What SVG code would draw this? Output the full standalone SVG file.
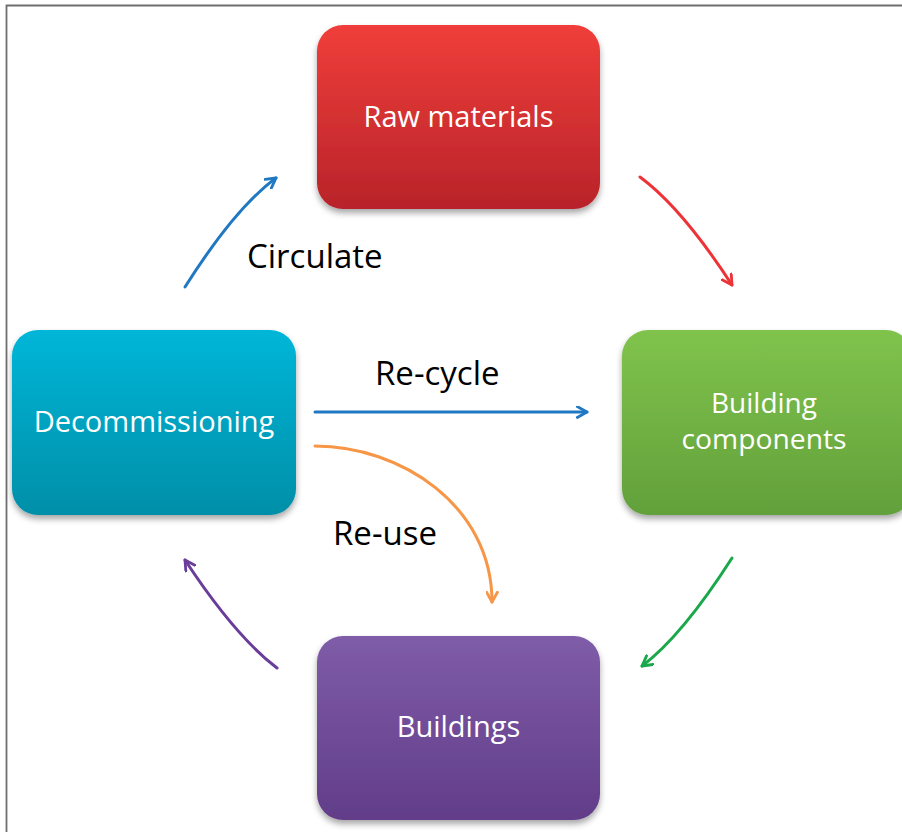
<svg xmlns="http://www.w3.org/2000/svg" width="902" height="832" viewBox="0 0 902 832">
<style>
.box{filter:url(#sh);}
.nt{font-family:"Open Sans","Noto Sans",sans-serif;font-size:29px;fill:#ffffff;text-anchor:middle;}
.nt2{font-size:26.5px;}
.lb{font-family:"Open Sans","Noto Sans",sans-serif;font-size:33px;fill:#000000;}
.c{fill:none;stroke-width:3;stroke-linecap:round;}
</style>
<defs>
<filter id="sh" x="-10%" y="-10%" width="120%" height="125%">
<feDropShadow dx="0" dy="4" stdDeviation="3" flood-color="#000" flood-opacity="0.35"/>
</filter>
<linearGradient id="gr" x1="0" y1="0" x2="0" y2="1"><stop offset="0" stop-color="#f03e3a"/><stop offset="1" stop-color="#b8232a"/></linearGradient>
<linearGradient id="gg" x1="0" y1="0" x2="0" y2="1"><stop offset="0" stop-color="#80c34c"/><stop offset="1" stop-color="#62a03b"/></linearGradient>
<linearGradient id="gc" x1="0" y1="0" x2="0" y2="1"><stop offset="0" stop-color="#00b6d8"/><stop offset="1" stop-color="#058fa8"/></linearGradient>
<linearGradient id="gp" x1="0" y1="0" x2="0" y2="1"><stop offset="0" stop-color="#7f5ca8"/><stop offset="1" stop-color="#623d89"/></linearGradient>
<marker id="mb" viewBox="0 0 12 12" refX="10" refY="6" markerWidth="13" markerHeight="13" markerUnits="userSpaceOnUse" orient="auto"><path d="M1,1 L10,6 L1,11" fill="none" stroke="#1f78c1" stroke-width="2.6" stroke-linecap="round" stroke-linejoin="round"/></marker>
<marker id="mr" viewBox="0 0 12 12" refX="10" refY="6" markerWidth="13" markerHeight="13" markerUnits="userSpaceOnUse" orient="auto"><path d="M1,1 L10,6 L1,11" fill="none" stroke="#ee3338" stroke-width="2.6" stroke-linecap="round" stroke-linejoin="round"/></marker>
<marker id="mg" viewBox="0 0 12 12" refX="10" refY="6" markerWidth="13" markerHeight="13" markerUnits="userSpaceOnUse" orient="auto"><path d="M1,1 L10,6 L1,11" fill="none" stroke="#1aa84a" stroke-width="2.6" stroke-linecap="round" stroke-linejoin="round"/></marker>
<marker id="mp" viewBox="0 0 12 12" refX="10" refY="6" markerWidth="13" markerHeight="13" markerUnits="userSpaceOnUse" orient="auto"><path d="M1,1 L10,6 L1,11" fill="none" stroke="#6a3d9a" stroke-width="2.6" stroke-linecap="round" stroke-linejoin="round"/></marker>
<marker id="mo" viewBox="0 0 12 12" refX="10" refY="6" markerWidth="13" markerHeight="13" markerUnits="userSpaceOnUse" orient="auto"><path d="M1,1 L10,6 L1,11" fill="none" stroke="#f79646" stroke-width="2.6" stroke-linecap="round" stroke-linejoin="round"/></marker>
</defs>
<rect width="902" height="832" fill="#ffffff"/>
<path d="M6.5,832 L6.5,5.5 L902,5.5" fill="none" stroke="#6e6e6e" stroke-width="1.8"/>
<g id="raw-materials"><rect class="box" x="317" y="25" width="283" height="184" rx="26" fill="url(#gr)"/><text class="nt" x="458.5" y="127">Raw materials</text></g>
<g id="building-components"><rect class="box" x="622" y="330" width="290" height="185" rx="26" fill="url(#gg)"/><text class="nt nt2" x="764" y="413" textLength="106" lengthAdjust="spacingAndGlyphs">Building</text><text class="nt nt2" x="764" y="449" textLength="165" lengthAdjust="spacingAndGlyphs">components</text></g>
<g id="decommissioning"><rect class="box" x="12" y="330" width="284" height="185" rx="26" fill="url(#gc)"/><text class="nt" x="154" y="432">Decommissioning</text></g>
<g id="buildings"><rect class="box" x="317" y="636" width="283" height="184" rx="26" fill="url(#gp)"/><text class="nt" x="458.5" y="737">Buildings</text></g>
<g id="connectors">
<path class="c" d="M185,287 Q235,208 276,178" stroke="#1f78c1" marker-end="url(#mb)"/>
<path class="c" d="M640,177 Q682,208 732,285" stroke="#ee3338" marker-end="url(#mr)"/>
<path class="c" d="M732,558 Q682,636 642,666" stroke="#1aa84a" marker-end="url(#mg)"/>
<path class="c" d="M277,668 Q235,636 185,560" stroke="#6a3d9a" marker-end="url(#mp)"/>
<path class="c" d="M315,412 L587,412" stroke="#1f78c1" stroke-width="2.6" marker-end="url(#mb)"/>
<path class="c" d="M315,446 C400,446 492,505 492,602" stroke="#f79646" marker-end="url(#mo)"/>
</g>
<g id="labels">
<text class="lb" x="247" y="268">Circulate</text>
<text class="lb" x="375" y="385">Re-cycle</text>
<text class="lb" x="333" y="545">Re-use</text>
</g>
</svg>
